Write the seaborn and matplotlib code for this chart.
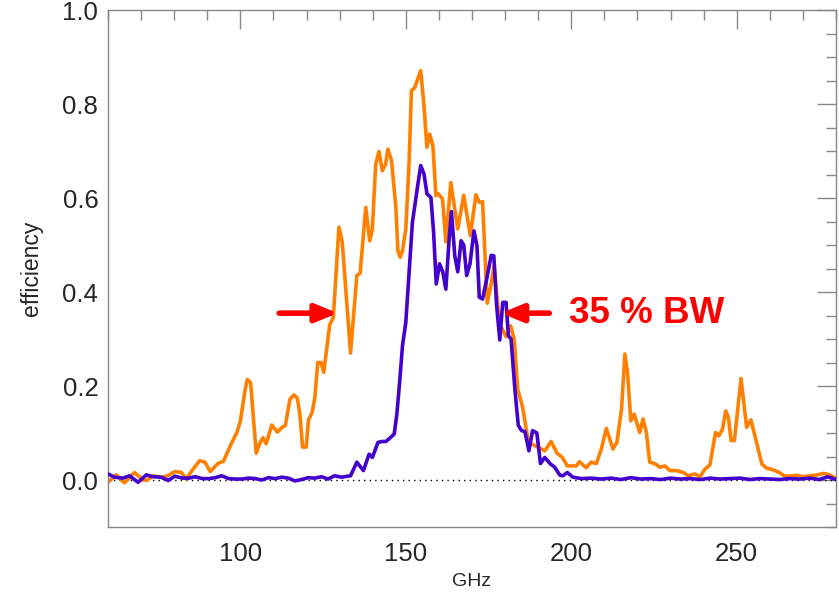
import numpy as np
import pandas as pd
import matplotlib
matplotlib.use("Agg")
import matplotlib.pyplot as plt
import seaborn as sns
from matplotlib.ticker import MultipleLocator

sns.set_theme(style="white")
plt.rcParams['font.family'] = ['Liberation Sans', 'DejaVu Sans']

# orange curve (wider band)
freq_orange = [60, 62.5, 65, 68, 70.6, 71.7, 73.6, 76, 77.8, 80.2, 82.2, 83.6, 85.6, 87.7, 89.3,
               90.9, 93.2, 94.9, 97, 99, 100, 101.4, 102.1, 103.1, 104.8, 105.9, 106.9, 107.8,
               109.5, 111.2, 112.6, 113.6, 115, 116.2, 117.2, 118, 118.8, 119.9, 120.6, 121.7,
               122.5, 123.4, 124.4, 125.2, 127, 128.1, 129.8, 130.8, 133.3, 135.2, 136.2, 137.9,
               139.1, 139.9, 140.9, 141.9, 142.9, 143.9, 144.6, 145.7, 147, 147.6, 148.3, 149,
               150, 151, 151.7, 152.7, 154.5, 155.5, 156.4, 157.2, 158.2, 159.1, 159.8, 161.1,
               162.1, 163.6, 165.7, 167.5, 169.5, 171.2, 172.2, 173.2, 174.6, 175.6, 176.7,
               178.3, 180.3, 181.7, 182.8, 183.8, 185.3, 186.9, 187.9, 189.9, 192, 193.9, 195.7,
               197.3, 198.8, 200.2, 201.5, 202.5, 204.5, 206, 207.6, 209.1, 210.6, 212.6, 213.8,
               215.2, 216.2, 217, 218, 219, 220.7, 221.7, 222.7, 223.7, 225.5, 226.8, 228.3,
               229.8, 231.8, 233.9, 235.3, 237.3, 238.9, 240.4, 241.9, 243.6, 244.6, 245.7,
               246.7, 247.5, 248.3, 249.3, 251.3, 253, 254.3, 255.5, 257.6, 259.1, 260.4, 261.6,
               262.8, 264.6, 266.7, 268.2, 270, 272, 273.7, 276.2, 277.7, 279.9]
eff_orange = [-0.005, 0.011, -0.006, 0.016, 0.0, -0.001, 0.009, 0.006, 0.008, 0.018, 0.016, 0.002,
              0.022, 0.041, 0.038, 0.018, 0.035, 0.04, 0.073, 0.102, 0.125, 0.19, 0.214, 0.207,
              0.057, 0.079, 0.09, 0.077, 0.117, 0.102, 0.112, 0.116, 0.172, 0.181, 0.174, 0.14,
              0.07, 0.07, 0.128, 0.144, 0.175, 0.25, 0.25, 0.229, 0.33, 0.346, 0.538, 0.506,
              0.27, 0.435, 0.44, 0.58, 0.509, 0.534, 0.672, 0.699, 0.658, 0.672, 0.704, 0.679,
              0.58, 0.488, 0.474, 0.488, 0.534, 0.676, 0.828, 0.835, 0.871, 0.796, 0.708, 0.736,
              0.711, 0.605, 0.609, 0.598, 0.507, 0.633, 0.534, 0.606, 0.52, 0.607, 0.591, 0.592,
              0.376, 0.41, 0.456, 0.333, 0.305, 0.328, 0.298, 0.194, 0.155, 0.087, 0.077, 0.07,
              0.062, 0.082, 0.057, 0.048, 0.03, 0.03, 0.03, 0.039, 0.026, 0.038, 0.035, 0.066,
              0.11, 0.066, 0.08, 0.151, 0.268, 0.229, 0.126, 0.14, 0.101, 0.13, 0.101, 0.038,
              0.034, 0.027, 0.03, 0.02, 0.02, 0.016, 0.009, 0.013, 0.007, 0.023, 0.032, 0.101,
              0.094, 0.108, 0.147, 0.133, 0.084, 0.084, 0.216, 0.112, 0.128, 0.094, 0.034, 0.025,
              0.023, 0.02, 0.016, 0.008, 0.009, 0.01, 0.007, 0.009, 0.01, 0.014, 0.012, 0.004]

# blue curve (narrow band)
freq_blue = [60, 62, 64.5, 66.5, 69.1, 71.6, 73.5, 76, 78.2, 80.2, 82.5, 84.5, 86.3, 88.5, 90.5,
             92.5, 94.3, 96.5, 98.5, 100.4, 102.5, 104.5, 106.5, 108.5, 110.5, 112.5, 114.5,
             116.5, 118.5, 120.5, 122.5, 124.5, 126.5, 128.5, 130.5, 133.3, 135.2, 137.2, 138.9,
             139.9, 141.6, 142.9, 144, 145.5, 146.5, 147.3, 148.3, 149, 150, 151, 152, 153.3,
             154.5, 155.5, 156.4, 157.6, 158.4, 159.2, 160.2, 161.2, 162.1, 163.1, 163.8, 164.8,
             165.7, 166.7, 167.5, 168.4, 169.4, 170.6, 171.5, 172.2, 173.2, 174.4, 175.8, 176.6,
             177.4, 178.4, 179.3, 180.3, 181, 181.8, 183, 184, 185, 186, 187.2, 188.3, 189.6,
             190.7, 192, 193.7, 194.9, 196.6, 197.5, 198.8, 200.5, 203, 206, 209, 212, 215, 218,
             221, 224, 227, 230, 233, 236, 239, 242, 245, 248, 251, 254, 257, 260, 263, 266,
             269, 272, 275, 277.5, 280]
eff_blue = [0.013, 0.006, 0.004, 0.009, -0.005, 0.011, 0.007, 0.006, -0.001, 0.008, 0.004, 0.004,
            0.007, 0.003, 0.003, 0.005, 0.009, 0.003, 0.002, 0.002, 0.004, 0.003, 0.0, 0.005,
            0.003, 0.006, 0.004, -0.002, 0.001, 0.005, 0.004, 0.007, 0.002, 0.009, 0.006, 0.009,
            0.038, 0.02, 0.055, 0.048, 0.08, 0.082, 0.082, 0.091, 0.098, 0.14, 0.222, 0.286,
            0.335, 0.442, 0.548, 0.612, 0.669, 0.651, 0.609, 0.601, 0.527, 0.417, 0.46, 0.442,
            0.406, 0.513, 0.571, 0.477, 0.443, 0.509, 0.5, 0.435, 0.46, 0.53, 0.499, 0.389,
            0.385, 0.426, 0.478, 0.477, 0.375, 0.298, 0.378, 0.378, 0.307, 0.3, 0.19, 0.116,
            0.105, 0.103, 0.062, 0.105, 0.1, 0.035, 0.048, 0.034, 0.028, 0.01, 0.009, 0.016,
            0.006, 0.003, 0.004, 0.002, 0.004, 0.001, 0.005, 0.002, 0.003, 0.001, 0.004, 0.002,
            0.003, 0.001, 0.004, 0.002, 0.003, 0.004, 0.001, 0.003, 0.002, 0.001, 0.003, 0.002,
            0.004, 0.001, 0.007, 0.001]

df_o = pd.DataFrame({"GHz": freq_orange, "efficiency": eff_orange})
df_b = pd.DataFrame({"GHz": freq_blue, "efficiency": eff_blue})

fig = plt.figure(figsize=(8.39, 5.99), dpi=100)
ax = fig.add_axes([0.1287, 0.1202, 0.8677, 0.8631])

ax.axhline(0, color="black", lw=1, ls=(0, (1, 3)), zorder=1)
sns.lineplot(data=df_o, x="GHz", y="efficiency", color="#ff8000", lw=2.6, ax=ax, zorder=2)
sns.lineplot(data=df_b, x="GHz", y="efficiency", color="#4400cc", lw=2.6, ax=ax, zorder=3)

ax.set_xlim(60, 280)
ax.set_ylim(-0.1, 1.0)
ax.xaxis.set_minor_locator(MultipleLocator(10))
ax.yaxis.set_minor_locator(MultipleLocator(0.05))
ax.set_xticks([100, 150, 200, 250])
ax.set_yticks([0.0, 0.2, 0.4, 0.6, 0.8, 1.0])
ax.set_yticklabels(["0.0", "0.2", "0.4", "0.6", "0.8", "1.0"])
ax.tick_params(which="both", direction="in", top=True, right=True, color="#888888",
               labelsize=18.5, width=1)
ax.tick_params(which="major", length=14)
ax.tick_params(axis="x", which="major", pad=11)
ax.tick_params(axis="y", which="major", pad=7)
ax.tick_params(which="minor", length=7)
for s in ax.spines.values():
    s.set_color("#888888")
    s.set_linewidth(1)

ax.set_xlabel("GHz", fontsize=14, labelpad=5)
ax.set_ylabel("efficiency", fontsize=16.5, labelpad=14)

# bandwidth arrows
ax.annotate("", xy=(130.3, 0.355), xytext=(110.9, 0.355),
            arrowprops=dict(arrowstyle="-|>,head_length=1.1,head_width=0.45", color="#ff0000", lw=4))
ax.annotate("", xy=(177.9, 0.355), xytext=(194.2, 0.355),
            arrowprops=dict(arrowstyle="-|>,head_length=1.1,head_width=0.45", color="#ff0000", lw=4))
ax.text(199.2, 0.355, "35 % BW", color="#ff0000", fontsize=26.5, fontweight="bold",
        ha="left", va="center")

fig.savefig("out.png", dpi=100)
